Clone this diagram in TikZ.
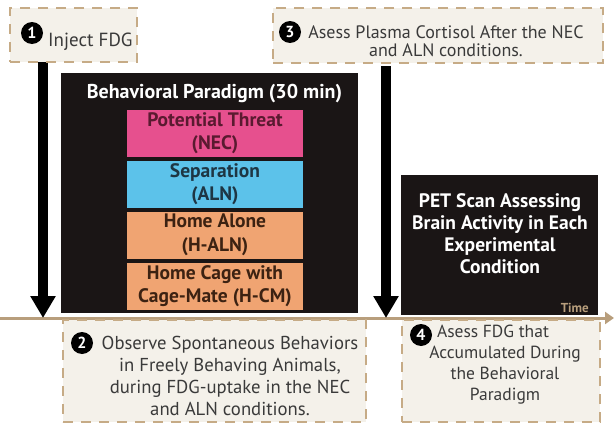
\documentclass[tikz,border=0pt]{standalone}
\usepackage{fontspec}
\setmainfont{PT Sans}
\usetikzlibrary{arrows.meta}
\definecolor{dashtan}{HTML}{C6AB86}
\definecolor{boxfill}{HTML}{F4F1EA}
\definecolor{linetan}{HTML}{B89E7C}
\definecolor{panel}{HTML}{1A1515}
\definecolor{pinkc}{HTML}{E6508E}
\definecolor{pinkt}{HTML}{5A1A30}
\definecolor{bluec}{HTML}{5CC2EA}
\definecolor{bluet}{HTML}{1E3644}
\definecolor{orangec}{HTML}{F0A472}
\definecolor{oranget}{HTML}{3C2212}
\definecolor{txt}{HTML}{3A3A3A}
\begin{document}
\begin{tikzpicture}[x=1pt,y=-1pt,
  dbox/.style={draw=dashtan,fill=boxfill,line width=2.6pt,dash pattern=on 10pt off 8pt,inner sep=0pt},
  panelbox/.style={fill=panel,draw=none,inner sep=0pt},
  cond/.style={inner sep=0pt,minimum width=176pt,minimum height=47pt,align=center,font=\fontsize{19.5}{23.5}\selectfont\bfseries},
  numc/.style={circle,fill=black,inner sep=0pt,minimum size=22pt,text=white,font=\fontsize{16}{16}\selectfont\bfseries},
  btxt/.style={text=txt,align=center,inner sep=0pt},
  wtxt/.style={text=white,align=center,inner sep=0pt},
  bigarrow/.style={line width=10pt,-{Triangle[width=24pt,length=22pt]},black},
]
\useasboundingbox (0,0) rectangle (614,423);
% coordinates for arrows
\coordinate (l1) at (43,62);
\coordinate (l2) at (43,318);
\coordinate (m1) at (386,66);
\coordinate (m2) at (386,318);
\coordinate (t0) at (0,318);
\coordinate (t1) at (614,318);
% panels
\node[panelbox,minimum width=297pt,minimum height=240pt] (bp) at (209.5,193) {};
\node[panelbox,minimum width=197pt,minimum height=140pt] (pet) at (499.5,245) {};
% timeline
\draw[linetan,line width=3pt,-{Triangle[width=12pt,length=9pt]}] (t0) -- (t1);
% arrows
\draw[bigarrow] (l1) -- (l2);
\draw[bigarrow] (m1) -- (m2);
% dashed boxes
\node[dbox,minimum width=127pt,minimum height=54pt] (b1) at (73.5,35) {};
\node[dbox,minimum width=330pt,minimum height=55pt] (b3) at (438,35.5) {};
\node[dbox,minimum width=303pt,minimum height=102pt] (b2) at (214.5,371) {};
\node[dbox,minimum width=198pt,minimum height=102pt] (b4) at (501,371) {};
% box texts
\node[numc] (n1) at (32,33) {1};
\node[btxt,anchor=base west,font=\fontsize{19}{19}\selectfont] (t1txt) at (48,46) {Inject FDG};
\node[numc] (n3) at (290,32) {3};
\node[btxt,anchor=base,font=\fontsize{18}{18.5}\selectfont] (t3txt) at (446,56.5) {Asess Plasma Cortisol After the NEC\\and ALN conditions.};
\node[numc] (n2) at (82,343) {2};
\node[btxt,anchor=base,font=\fontsize{18.7}{22}\selectfont] (t2txt) at (230,415) {Observe Spontaneous Behaviors\\in Freely Behaving Animals,\\during FDG-uptake in the NEC\\and ALN conditions.};
\node[numc] (n4) at (421,335) {4};
\node[btxt,anchor=base,font=\fontsize{17.5}{20.7}\selectfont] (t4txt) at (505,400) {Asess FDG that\hspace*{24pt}\\Accumulated During\\the Behavioral\\Paradigm};
% panel texts
\node[wtxt,anchor=base,font=\fontsize{20}{20}\selectfont\bfseries] (title) at (214.5,98) {Behavioral Paradigm (30 min)};
\node[cond,fill=pinkc,text=pinkt] (c1) at (215,133) {Potential Threat\\(NEC)};
\node[cond,fill=bluec,text=bluet] (c2) at (215,184) {Separation\\(ALN)};
\node[cond,fill=orangec,text=oranget] (c3) at (215,235) {Home Alone\\(H-ALN)};
\node[cond,fill=orangec,text=oranget] (c4) at (215,286) {Home Cage with\\Cage-Mate (H-CM)};
\node[wtxt,anchor=base,font=\fontsize{19.5}{22}\selectfont\bfseries] (pettxt) at (500,273) {PET Scan Assessing\\Brain Activity in Each\\Experimental\\Condition};
\node[text=linetan,inner sep=0pt,anchor=base east,font=\fontsize{13}{13}\selectfont\bfseries] (time) at (589,312) {Time};
\end{tikzpicture}
\end{document}
